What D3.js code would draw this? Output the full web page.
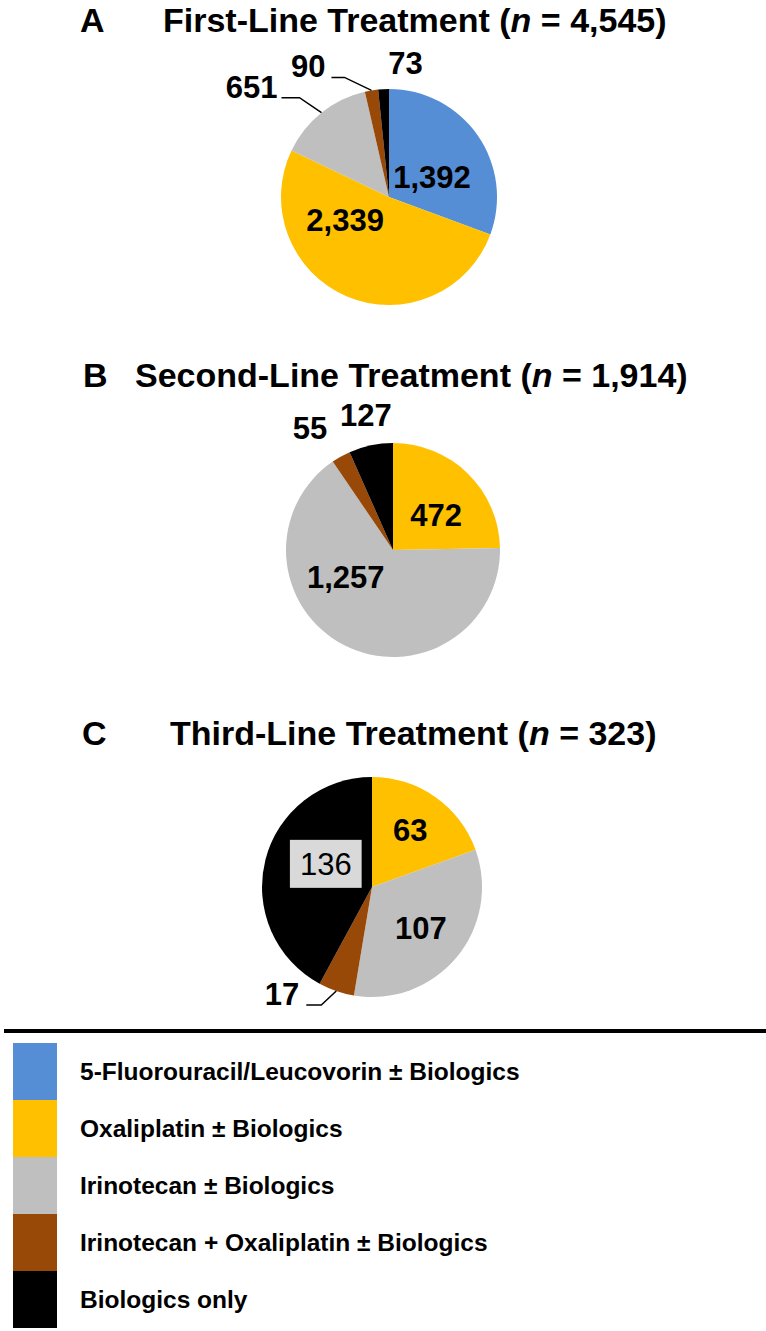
<!DOCTYPE html>
<html>
<head>
<meta charset="utf-8">
<script src="https://cdn.jsdelivr.net/npm/d3@7"></script>
<style>
  body { margin: 0; background: #fff; }
  svg { display: block; font-family: "Liberation Sans", Arial, sans-serif; }
</style>
</head>
<body>
<svg id="chart" width="766" height="1331"></svg>
<script>
// treatment groups, same order in every pie (clockwise from 12 o'clock)
const categories = [
  "5-Fluorouracil/Leucovorin \u00b1 Biologics",
  "Oxaliplatin \u00b1 Biologics",
  "Irinotecan \u00b1 Biologics",
  "Irinotecan + Oxaliplatin \u00b1 Biologics",
  "Biologics only"
];
const colors = ["#558ed5", "#ffc000", "#bfbfbf", "#984807", "#000000"];

const firstLine = [1392, 2339, 651, 90, 73];
const secondLine = [0, 472, 1257, 55, 127];
const thirdLine = [0, 63, 107, 17, 136];

const panelLetters = ["A", "B", "C"];
const panelTitles = ["First-Line Treatment", "Second-Line Treatment", "Third-Line Treatment"];
const panelN = ["4,545", "1,914", "323"];

// layout of each panel (not data)
const panels = [
  { values: firstLine, cx: 389, cy: 197, r: 108, letterX: 80, titleX: 163, titleY: 32,
    labels: [
      { a: 65, rf: 0.44 },
      { a: 242, rf: 0.46 },
      { lead: [-22, -15, -18], gap: 4 },
      { lead: [-27, -13, -13], gap: 6 },
      { a: 7, rf: 1.25 }
    ] },
  { values: secondLine, cx: 393, cy: 550, r: 107, letterX: 83, titleX: 135, titleY: 387,
    labels: [
      null,
      { a: 51, rf: 0.52 },
      { a: 240, rf: 0.51 },
      { a: 325.8, rf: 1.38 },
      { a: 348.7, rf: 1.29 }
    ] },
  { values: thirdLine, cx: 372, cy: 887, r: 110, letterX: 82, titleX: 170, titleY: 745,
    labels: [
      null,
      { a: 34, rf: 0.62 },
      { a: 130, rf: 0.58 },
      { lead: [-15, 14, -15], gap: 7 },
      { a: 296.6, rf: 0.47, box: true }
    ] }
];

const color = d3.scaleOrdinal(categories, colors);
const fmt = d3.format(",");
const svg = d3.select("#chart");

const pie = d3.pie().sort(null).value(d => d);

function polar(a, r) {
  const t = a * Math.PI / 180;
  return [r * Math.sin(t), -r * Math.cos(t)];
}

panels.forEach((p, pi) => {
  // panel letter + title
  svg.append("text")
    .attr("x", p.letterX).attr("y", p.titleY)
    .attr("font-size", 34).attr("font-weight", "bold")
    .text(panelLetters[pi]);

  const title = svg.append("text")
    .attr("x", p.titleX).attr("y", p.titleY)
    .attr("font-size", 34).attr("font-weight", "bold");
  title.append("tspan").text(panelTitles[pi] + " (");
  title.append("tspan").attr("font-style", "italic").text("n");
  title.append("tspan").text(" = " + panelN[pi] + ")");

  const arc = d3.arc().innerRadius(0).outerRadius(p.r);
  const g = svg.append("g").attr("transform", `translate(${p.cx},${p.cy})`);
  const arcs = pie(p.values);

  g.selectAll("path.slice")
    .data(arcs)
    .enter()
    .append("path")
    .attr("class", "slice")
    .attr("d", arc)
    .attr("fill", (d, i) => color(categories[i]));

  arcs.forEach((d, i) => {
    const lab = p.labels[i];
    if (!lab || d.value === 0) return;
    const txt = fmt(d.value);
    if (lab.lead) {
      const mid = (d.startAngle + d.endAngle) / 2 * 180 / Math.PI;
      const p0 = polar(mid, p.r);
      const p1 = [p0[0] + lab.lead[0], p0[1] + lab.lead[1]];
      const p2 = [p1[0] + lab.lead[2], p1[1]];
      g.append("path")
        .attr("d", d3.line()([p0, p1, p2]))
        .attr("fill", "none")
        .attr("stroke", "#000")
        .attr("stroke-width", 1.5);
      g.append("text")
        .attr("x", p2[0] - lab.gap).attr("y", p2[1])
        .attr("text-anchor", "end")
        .attr("font-size", 31).attr("font-weight", "bold")
        .text(txt);
    } else {
      const pos = polar(lab.a, p.r * lab.rf);
      const t = g.append("text")
        .attr("x", pos[0]).attr("y", pos[1])
        .attr("dy", "0.35em")
        .attr("text-anchor", "middle")
        .attr("font-size", 31)
        .attr("font-weight", lab.box ? "normal" : "bold")
        .text(txt);
      if (lab.box) {
        const bb = t.node().getBBox();
        g.insert("rect", () => t.node())
          .attr("x", bb.x - 10).attr("y", pos[1] - 24)
          .attr("width", bb.width + 20).attr("height", 48)
          .attr("fill", "#d9d9d9");
      }
    }
  });
});

// separator
svg.append("line")
  .attr("x1", 4).attr("x2", 766)
  .attr("y1", 1031).attr("y2", 1031)
  .attr("stroke", "#000").attr("stroke-width", 4);

// legend
const legendY = d3.scaleBand().domain(categories).range([1043, 1328]).padding(0);
const legend = svg.append("g");
legend.selectAll("rect")
  .data(categories)
  .enter()
  .append("rect")
  .attr("x", 13)
  .attr("y", d => legendY(d))
  .attr("width", 44)
  .attr("height", legendY.bandwidth())
  .attr("fill", d => color(d));
legend.selectAll("text")
  .data(categories)
  .enter()
  .append("text")
  .attr("x", 80)
  .attr("y", d => legendY(d) + legendY.bandwidth() / 2)
  .attr("dy", "0.35em")
  .attr("font-size", 24.5)
  .attr("font-weight", "bold")
  .text(d => d);
</script>
</body>
</html>
